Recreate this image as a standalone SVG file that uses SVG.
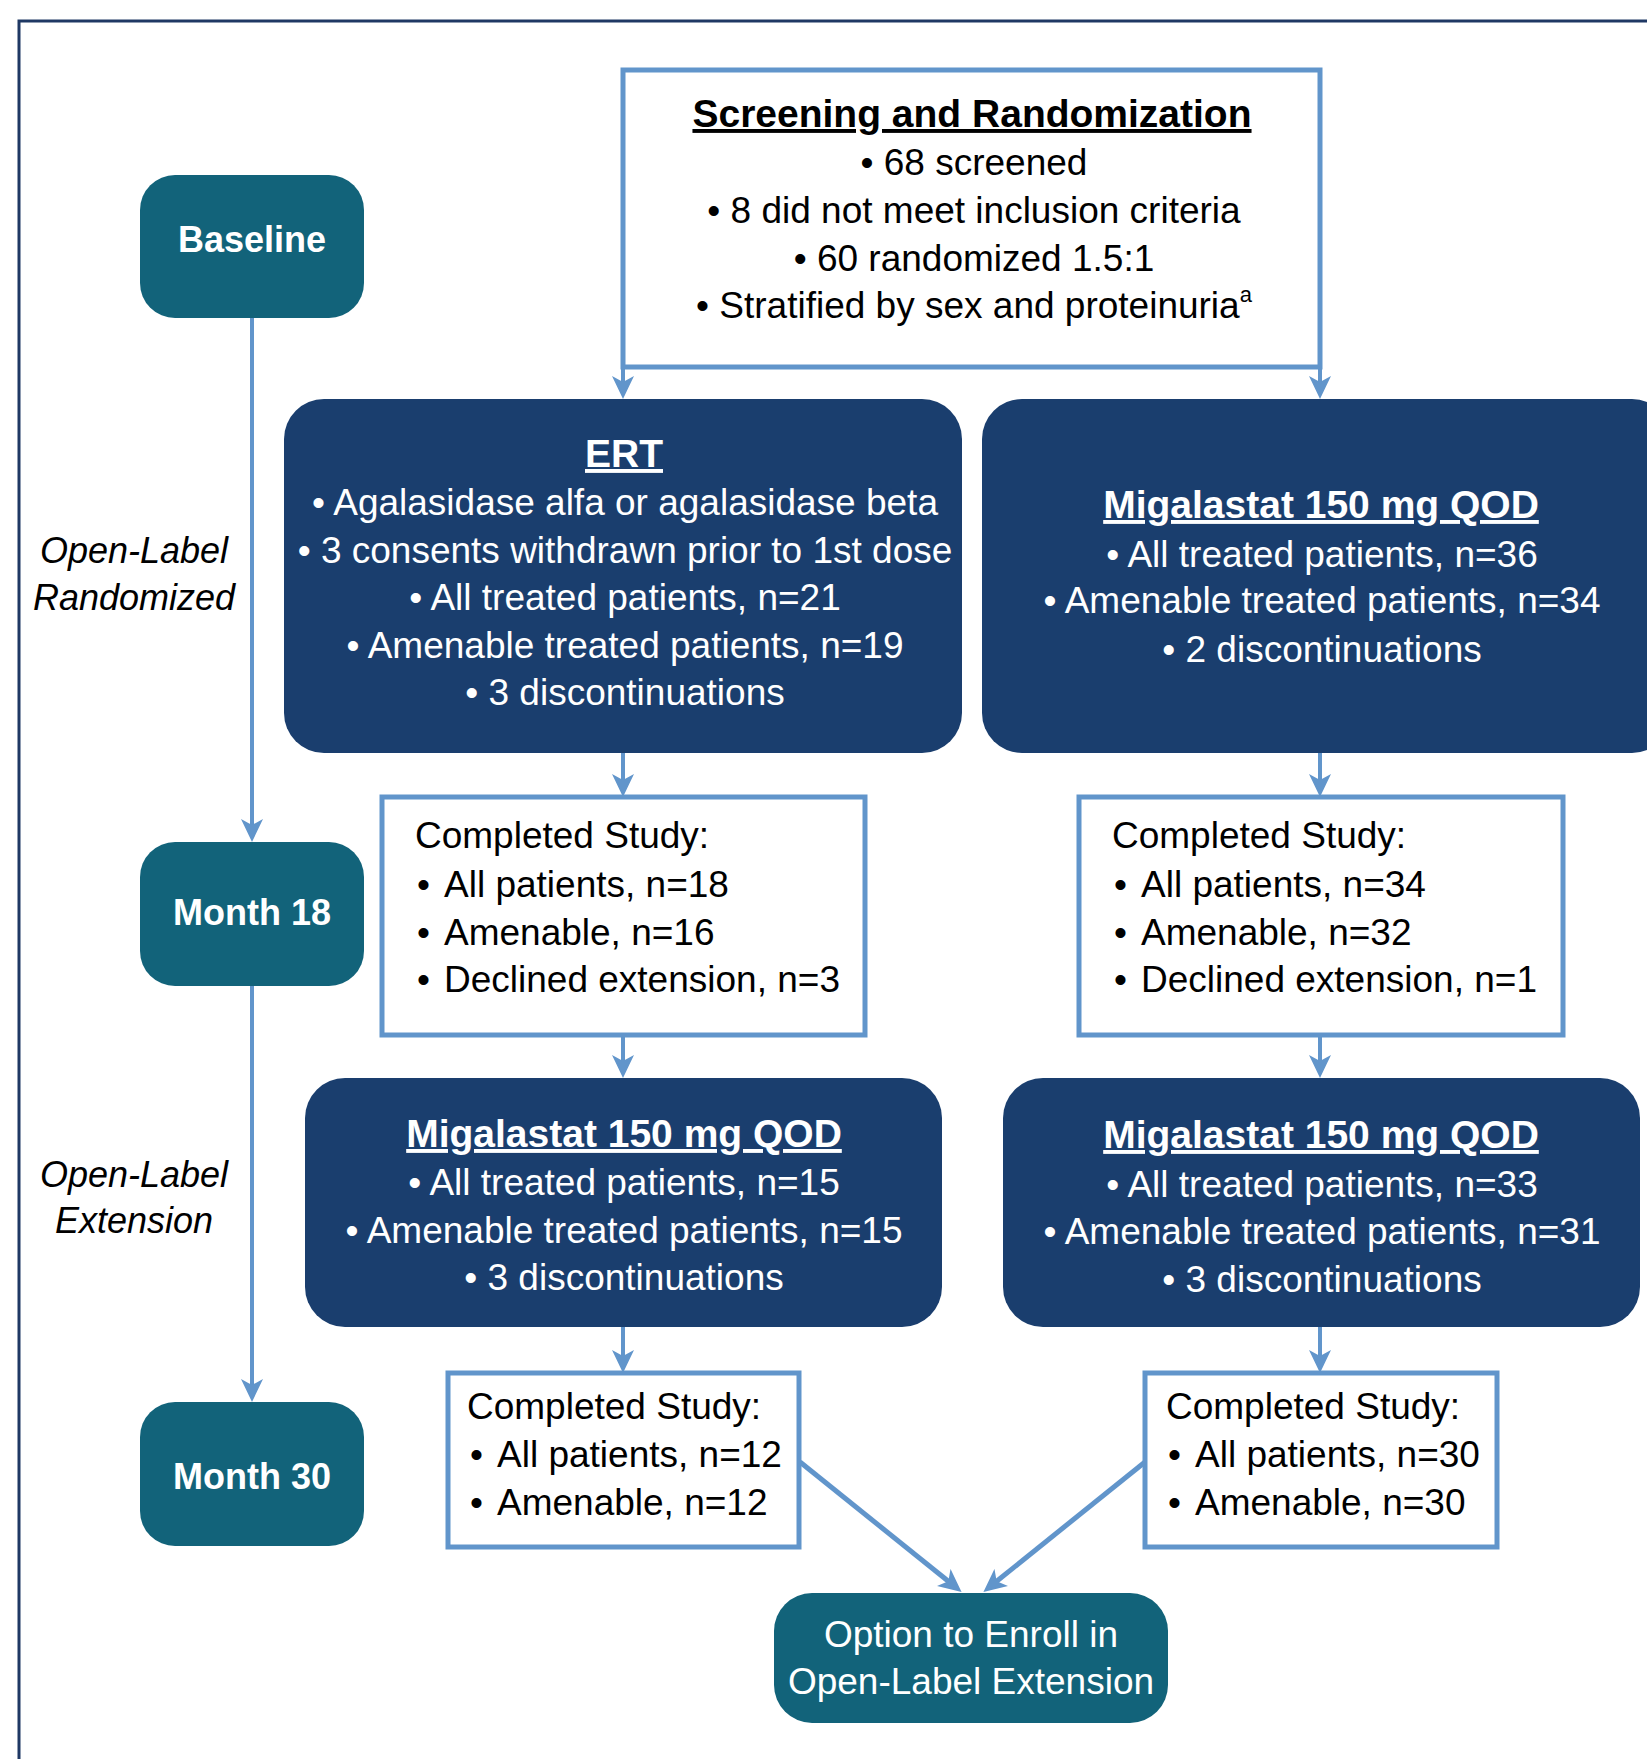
<svg xmlns="http://www.w3.org/2000/svg" width="1647" height="1759" viewBox="0 0 1647 1759">
<style>
text{font-family:"Liberation Sans",Arial,sans-serif;}
.frame{fill:none;stroke:#1F3864;stroke-width:3;}
.box{fill:#FFFFFF;stroke:#6195CB;stroke-width:5;}
.navy{fill:#1A3E6E;}
.teal{fill:#12637A;}
.conn{fill:none;stroke:#6195CB;stroke-width:4;}
.diag{fill:none;stroke:#6195CB;stroke-width:5;}
.dark{fill:#000000;font-size:37px;}
.white{fill:#FFFFFF;font-size:37px;}
.title{font-weight:bold;font-size:39px;text-decoration:underline;}
.node{fill:#FFFFFF;font-weight:bold;font-size:36px;}
.phase{fill:#000000;font-style:italic;font-size:36px;}
.mid{text-anchor:middle;}
</style>
<defs>
<marker id="arr" markerUnits="userSpaceOnUse" markerWidth="24" markerHeight="22" refX="12" refY="11" orient="auto" viewBox="0 0 24 22">
<path d="M0,0 L23,11 L0,22 L6,11 Z" fill="#6195CB"/>
</marker>
</defs>
<rect width="1647" height="1759" fill="#FFFFFF"/>
<path class="frame" d="M19,1759 L19,21 L1647,21"/>

<g id="connectors">
<line class="conn" x1="252" y1="318" x2="252" y2="831" marker-end="url(#arr)"/>
<line class="conn" x1="252" y1="986" x2="252" y2="1391" marker-end="url(#arr)"/>
<line class="conn" x1="623" y1="367" x2="623" y2="388" marker-end="url(#arr)"/>
<line class="conn" x1="1320" y1="367" x2="1320" y2="388" marker-end="url(#arr)"/>
<line class="conn" x1="623" y1="753" x2="623" y2="786" marker-end="url(#arr)"/>
<line class="conn" x1="1320" y1="753" x2="1320" y2="786" marker-end="url(#arr)"/>
<line class="conn" x1="623" y1="1035" x2="623" y2="1067" marker-end="url(#arr)"/>
<line class="conn" x1="1320" y1="1035" x2="1320" y2="1067" marker-end="url(#arr)"/>
<line class="conn" x1="623" y1="1327" x2="623" y2="1362" marker-end="url(#arr)"/>
<line class="conn" x1="1320" y1="1327" x2="1320" y2="1362" marker-end="url(#arr)"/>
<line class="diag" x1="800" y1="1462" x2="953" y2="1585" marker-end="url(#arr)"/>
<line class="diag" x1="1145" y1="1462" x2="992" y2="1585" marker-end="url(#arr)"/>
</g>

<g id="baseline">
<rect class="teal" x="140" y="175" width="224" height="143" rx="35" ry="35"/>
<text class="node mid" x="252" y="252">Baseline</text>
</g>
<g id="month18">
<rect class="teal" x="140" y="842" width="224" height="144" rx="35" ry="35"/>
<text class="node mid" x="252" y="925">Month 18</text>
</g>
<g id="month30">
<rect class="teal" x="140" y="1402" width="224" height="144" rx="35" ry="35"/>
<text class="node mid" x="252" y="1489">Month 30</text>
</g>

<g id="phase-randomized">
<text class="phase mid" x="134" y="563">Open-Label</text>
<text class="phase mid" x="134" y="610">Randomized</text>
</g>
<g id="phase-extension">
<text class="phase mid" x="134" y="1187">Open-Label</text>
<text class="phase mid" x="134" y="1233">Extension</text>
</g>

<g id="screening">
<rect class="box" x="623" y="70" width="697" height="297"/>
<text class="dark title mid" x="972" y="127">Screening and Randomization</text>
<text class="dark mid" x="974" y="175">• 68 screened</text>
<text class="dark mid" x="974" y="223">• 8 did not meet inclusion criteria</text>
<text class="dark mid" x="974" y="271">• 60 randomized 1.5:1</text>
<text class="dark mid" x="974" y="318">• Stratified by sex and proteinuria<tspan font-size="22" dy="-16">a</tspan></text>
</g>

<g id="ert">
<rect class="navy" x="284" y="399" width="678" height="354" rx="40" ry="40"/>
<text class="white title mid" x="624" y="467">ERT</text>
<text class="white mid" x="625" y="515">• Agalasidase alfa or agalasidase beta</text>
<text class="white mid" x="625" y="563">• 3 consents withdrawn prior to 1st dose</text>
<text class="white mid" x="625" y="610">• All treated patients, n=21</text>
<text class="white mid" x="625" y="658">• Amenable treated patients, n=19</text>
<text class="white mid" x="625" y="705">• 3 discontinuations</text>
</g>

<g id="migalastat-rand">
<rect class="navy" x="982" y="399" width="690" height="354" rx="40" ry="40"/>
<text class="white title mid" x="1321" y="518">Migalastat 150 mg QOD</text>
<text class="white mid" x="1322" y="567">• All treated patients, n=36</text>
<text class="white mid" x="1322" y="613">• Amenable treated patients, n=34</text>
<text class="white mid" x="1322" y="662">• 2 discontinuations</text>
</g>

<g id="completed-ert-18">
<rect class="box" x="382" y="797" width="483" height="238"/>
<text class="dark" x="415" y="848">Completed Study:</text>
<text class="dark" y="897"><tspan x="417">•</tspan><tspan x="444">All patients, n=18</tspan></text>
<text class="dark" y="945"><tspan x="417">•</tspan><tspan x="444">Amenable, n=16</tspan></text>
<text class="dark" y="992"><tspan x="417">•</tspan><tspan x="444">Declined extension, n=3</tspan></text>
</g>

<g id="completed-mig-18">
<rect class="box" x="1079" y="797" width="484" height="238"/>
<text class="dark" x="1112" y="848">Completed Study:</text>
<text class="dark" y="897"><tspan x="1114">•</tspan><tspan x="1141">All patients, n=34</tspan></text>
<text class="dark" y="945"><tspan x="1114">•</tspan><tspan x="1141">Amenable, n=32</tspan></text>
<text class="dark" y="992"><tspan x="1114">•</tspan><tspan x="1141">Declined extension, n=1</tspan></text>
</g>

<g id="ext-left">
<rect class="navy" x="305" y="1078" width="637" height="249" rx="40" ry="40"/>
<text class="white title mid" x="624" y="1147">Migalastat 150 mg QOD</text>
<text class="white mid" x="624" y="1195">• All treated patients, n=15</text>
<text class="white mid" x="624" y="1243">• Amenable treated patients, n=15</text>
<text class="white mid" x="624" y="1290">• 3 discontinuations</text>
</g>

<g id="ext-right">
<rect class="navy" x="1003" y="1078" width="637" height="249" rx="40" ry="40"/>
<text class="white title mid" x="1321" y="1148">Migalastat 150 mg QOD</text>
<text class="white mid" x="1322" y="1197">• All treated patients, n=33</text>
<text class="white mid" x="1322" y="1244">• Amenable treated patients, n=31</text>
<text class="white mid" x="1322" y="1292">• 3 discontinuations</text>
</g>

<g id="completed-left-30">
<rect class="box" x="448" y="1373" width="351" height="174"/>
<text class="dark" x="467" y="1419">Completed Study:</text>
<text class="dark" y="1467"><tspan x="470">•</tspan><tspan x="497">All patients, n=12</tspan></text>
<text class="dark" y="1515"><tspan x="470">•</tspan><tspan x="497">Amenable, n=12</tspan></text>
</g>

<g id="completed-right-30">
<rect class="box" x="1145" y="1373" width="352" height="174"/>
<text class="dark" x="1166" y="1419">Completed Study:</text>
<text class="dark" y="1467"><tspan x="1168">•</tspan><tspan x="1195">All patients, n=30</tspan></text>
<text class="dark" y="1515"><tspan x="1168">•</tspan><tspan x="1195">Amenable, n=30</tspan></text>
</g>

<g id="option">
<rect class="teal" x="774" y="1593" width="394" height="130" rx="38" ry="38"/>
<text class="white mid" x="971" y="1647">Option to Enroll in</text>
<text class="white mid" x="971" y="1694">Open-Label Extension</text>
</g>
</svg>
